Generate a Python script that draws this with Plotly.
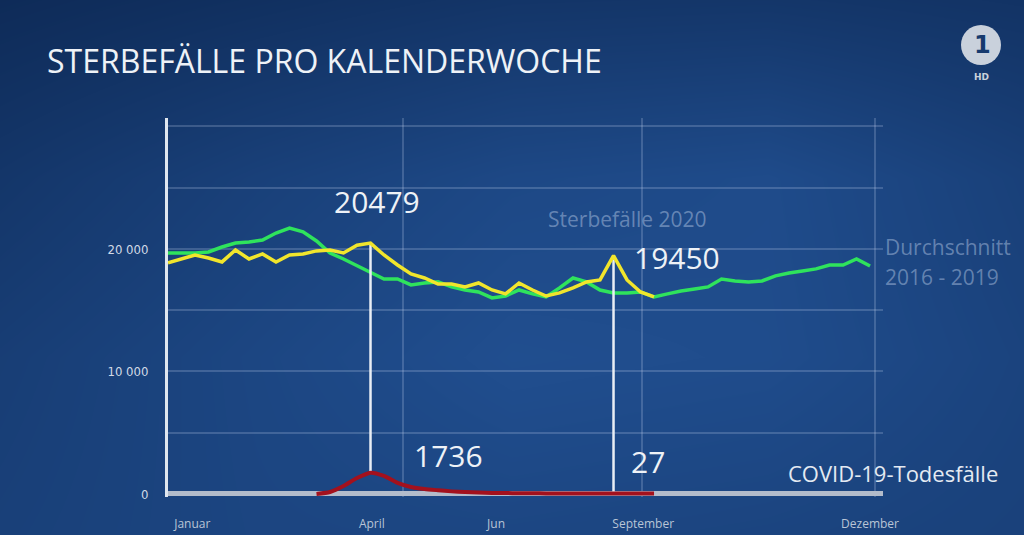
import plotly.graph_objects as go

# ---------------- data ----------------
weeks = list(range(1, 54))

durchschnitt_2016_2019 = [
    19670, 19670, 19670, 19750, 20160, 20490, 20570, 20730, 21300, 21710,
    21390, 20650, 19670, 19180, 18610, 18040, 17550, 17550, 17060, 17220,
    17310, 16900, 16650, 16490, 16000, 16160, 16650, 16330, 16080, 16820,
    17630, 17310, 16650, 16410, 16410, 16490, 16080, 16330, 16570, 16730,
    16900, 17550, 17390, 17310, 17390, 17800, 18040, 18200, 18370, 18690,
    18690, 19180, 18610,
]

weeks_2020 = list(range(1, 38))
sterbefaelle_2020 = [
    18860, 19180, 19510, 19260, 18940, 19920, 19180, 19590, 18940, 19510,
    19590, 19840, 19920, 19670, 20300, 20479, 19510, 18690, 17960, 17630,
    17140, 17140, 16900, 17220, 16650, 16330, 17220, 16650, 16160, 16410,
    16820, 17310, 17470, 19450, 17470, 16490, 16080,
]

weeks_covid = list(range(12, 38))
covid_todesfaelle = [
    0, 160, 650, 1300, 1736, 1470, 900, 570, 400, 300,
    210, 150, 110, 80, 70, 60, 50, 45, 40, 35,
    30, 30, 27, 30, 30, 30,
]

marked_weeks = [16, 34]

month_labels = ["Januar", "April", "Jun", "September", "Dezember"]
month_pos = [2.8, 16.1, 25.3, 36.2, 53.0]

y_tick_vals = [0, 10000, 20000]
y_tick_text = ["0", "10 000", "20 000"]

# background brightness grid (rows bottom -> top), read by eye
bg_brightness = [
    [0.50, 0.60, 0.62, 0.58, 0.52],
    [0.45, 0.62, 0.78, 0.74, 0.56],
    [0.30, 0.50, 0.66, 0.72, 0.50],
    [0.08, 0.18, 0.28, 0.30, 0.24],
]

# ---------------- figure ----------------
W, H = 1024, 535
def px(x):
    return x / W
def py(y):
    return 1 - y / H

fig = go.Figure()

# background gradient on its own full-paper subplot
fig.add_trace(go.Heatmap(
    z=bg_brightness, x=[0, 1, 2, 3, 4], y=[0, 1, 2, 3],
    colorscale=[[0, "#0c2752"], [1, "#2659a0"]], zmin=0, zmax=1,
    zsmooth="best", showscale=False, hoverinfo="skip",
    xaxis="x", yaxis="y",
))

GREEN = "#2fe35c"
YELLOW = "#f1e52c"
RED = "#a3111d"
WHITE = "#e9eef5"

fig.add_trace(go.Scatter(
    x=weeks, y=durchschnitt_2016_2019, mode="lines",
    line=dict(color=GREEN, width=3.5), xaxis="x2", yaxis="y2", hoverinfo="skip",
))

# vertical marker lines from COVID value up to 2020 deaths value
for w in marked_weeks:
    c = covid_todesfaelle[weeks_covid.index(w)]
    s = sterbefaelle_2020[weeks_2020.index(w)]
    fig.add_trace(go.Scatter(
        x=[w, w], y=[c, s], mode="lines",
        line=dict(color=WHITE, width=2.5), xaxis="x2", yaxis="y2", hoverinfo="skip",
    ))

fig.add_trace(go.Scatter(
    x=weeks_2020, y=sterbefaelle_2020, mode="lines",
    line=dict(color=YELLOW, width=3.5), xaxis="x2", yaxis="y2", hoverinfo="skip",
))
fig.add_trace(go.Scatter(
    x=weeks_covid, y=covid_todesfaelle, mode="lines",
    line=dict(color=RED, width=4, shape="spline", smoothing=0.6),
    xaxis="x2", yaxis="y2", hoverinfo="skip",
))

FONT = "Open Sans"
LABEL_COLOR = "#eef2f7"
FADED = "rgba(190,208,235,0.45)"

annotations = []
# value labels
w0, w1 = marked_weeks
annotations.append(dict(
    x=w0, y=sterbefaelle_2020[weeks_2020.index(w0)], xref="x2", yref="y2",
    text=str(sterbefaelle_2020[weeks_2020.index(w0)]), showarrow=False,
    xanchor="center", yanchor="middle", xshift=6, yshift=42,
    font=dict(family=FONT, size=30, color=LABEL_COLOR),
))
annotations.append(dict(
    x=w1, y=sterbefaelle_2020[weeks_2020.index(w1)], xref="x2", yref="y2",
    text=str(sterbefaelle_2020[weeks_2020.index(w1)]), showarrow=False,
    xanchor="left", yanchor="middle", xshift=18, yshift=-2,
    font=dict(family=FONT, size=30, color=LABEL_COLOR),
))
annotations.append(dict(
    x=w0, y=covid_todesfaelle[weeks_covid.index(w0)], xref="x2", yref="y2",
    text=str(covid_todesfaelle[weeks_covid.index(w0)]), showarrow=False,
    xanchor="left", yanchor="middle", xshift=41, yshift=17,
    font=dict(family=FONT, size=30, color=LABEL_COLOR),
))
annotations.append(dict(
    x=w1, y=covid_todesfaelle[weeks_covid.index(w1)], xref="x2", yref="y2",
    text=str(covid_todesfaelle[weeks_covid.index(w1)]), showarrow=False,
    xanchor="left", yanchor="middle", xshift=15, yshift=32,
    font=dict(family=FONT, size=30, color=LABEL_COLOR),
))

# title and series labels
annotations += [
    dict(x=px(45), y=py(60), xref="paper", yref="paper", text="STERBEFÄLLE PRO KALENDERWOCHE",
         showarrow=False, xanchor="left", yanchor="middle",
         font=dict(family=FONT, size=32, color="#eef2f7")),
    dict(x=px(627), y=py(219), xref="paper", yref="paper", text="Sterbefälle 2020",
         showarrow=False, xanchor="center", yanchor="middle",
         font=dict(family=FONT, size=21, color=FADED)),
    dict(x=px(883), y=py(247), xref="paper", yref="paper", text="Durchschnitt",
         showarrow=False, xanchor="left", yanchor="middle",
         font=dict(family=FONT, size=21, color=FADED)),
    dict(x=px(883), y=py(277), xref="paper", yref="paper", text="2016 - 2019",
         showarrow=False, xanchor="left", yanchor="middle",
         font=dict(family=FONT, size=21, color=FADED)),
    dict(x=px(786), y=py(473), xref="paper", yref="paper", text="COVID-19-Todesfälle",
         showarrow=False, xanchor="left", yanchor="middle",
         font=dict(family=FONT, size=22, color="#e4eaf2")),
    # channel logo
    dict(x=px(982), y=py(45), xref="paper", yref="paper", text="<b>1</b>",
         showarrow=False, xanchor="center", yanchor="middle",
         font=dict(family="DejaVu Sans", size=24, color="#163a6e")),
    dict(x=px(981), y=py(77), xref="paper", yref="paper", text="<b>HD</b>",
         showarrow=False, xanchor="center", yanchor="middle",
         font=dict(family="DejaVu Sans", size=9, color="#c9d1dc")),
]

shapes = [
    dict(type="circle", xref="paper", yref="paper",
         x0=px(961), x1=px(1001), y0=py(65), y1=py(25),
         fillcolor="#c9d1dc", line=dict(width=0)),
]

GRID = "rgba(200,215,240,0.22)"

fig.update_layout(
    width=W, height=H,
    margin=dict(l=0, r=0, t=0, b=0, pad=0),
    paper_bgcolor="#163c72", plot_bgcolor="rgba(0,0,0,0)",
    showlegend=False,
    xaxis=dict(domain=[0, 1], range=[0, 4], visible=False, fixedrange=True),
    yaxis=dict(domain=[0, 1], range=[0, 3], visible=False, fixedrange=True),
    xaxis2=dict(
        domain=[px(168), px(883)], range=[1, 53.96], anchor="y2",
        showgrid=False, zeroline=False, showline=False,
        tickmode="array", tickvals=month_pos, ticktext=month_labels,
        tickfont=dict(family=FONT, size=12, color="#b9c5d6"),
        ticks="", ticklabelstandoff=18, automargin=False,
        minor=dict(tickmode="array", tickvals=[18.4, 36.1, 53.4],
                   showgrid=True, gridcolor=GRID, gridwidth=2, ticks=""),
    ),
    yaxis2=dict(
        domain=[py(497), py(118)], range=[-250, 30690], anchor="x2",
        showgrid=False, zeroline=True, zerolinecolor="#b3bccb", zerolinewidth=5,
        showline=True, linecolor="#dfe6ef", linewidth=3,
        tickmode="array", tickvals=y_tick_vals, ticktext=y_tick_text,
        tickfont=dict(family="DejaVu Sans Condensed", size=13, color="#d2dae6"),
        ticks="", ticklabelstandoff=14, automargin=False,
        minor=dict(tickmode="array", tickvals=[5000, 10000, 15000, 20000, 25000, 30000],
                   showgrid=True, gridcolor=GRID, gridwidth=2, ticks=""),
    ),
    annotations=annotations,
    shapes=shapes,
)

fig.write_html(
    "out.html",
    config={"displayModeBar": False},
    post_script="document.body.style.margin='0';document.body.style.overflow='hidden';",
)
